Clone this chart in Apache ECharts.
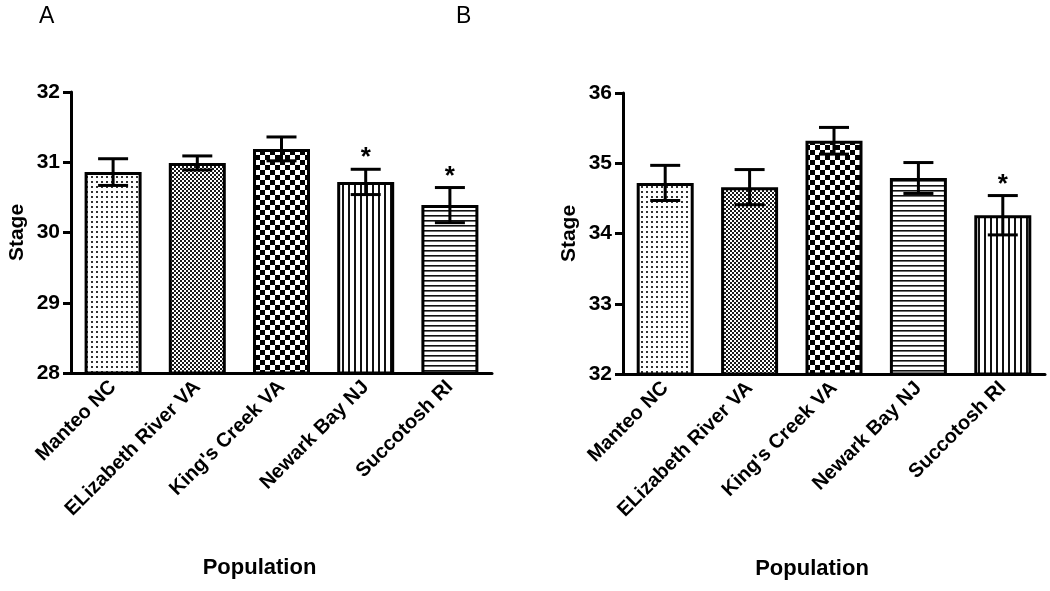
<!DOCTYPE html>
<html>
<head>
<meta charset="utf-8">
<script src="https://cdn.jsdelivr.net/npm/echarts@6/dist/echarts.min.js"></script>
<style>
html,body{margin:0;padding:0;background:#fff;}
#chart{width:1050px;height:591px;}
</style>
</head>
<body>
<div id="chart"></div>
<script>
const categories = ['Manteo NC', 'ELizabeth River VA', "King's Creek VA", 'Newark Bay NJ', 'Succotosh RI'];
const meanA = [30.86, 30.99, 31.19, 30.72, 30.39];
const semA  = [0.19, 0.10, 0.17, 0.18, 0.25];
const sigA  = ['', '', '', '*', '*'];
const meanB = [34.72, 34.66, 35.32, 34.79, 34.26];
const semB  = [0.25, 0.25, 0.19, 0.22, 0.28];
const sigB  = ['', '', '', '', '*'];
const yRangeA = [28, 32];
const yRangeB = [32, 36];
const patternsA = ['dots', 'fine', 'checker', 'vlines', 'hlines'];
const patternsB = ['dots', 'fine', 'checker', 'hlines', 'vlines'];
const panelLabels = ['A', 'B'];
const yTitle = 'Stage';
const xTitle = 'Population';

function makePattern(kind) {
  const c = document.createElement('canvas');
  let ctx;
  if (kind === 'dots') {
    c.width = 5; c.height = 5; ctx = c.getContext('2d');
    ctx.fillStyle = '#fff'; ctx.fillRect(0, 0, 5, 5);
    ctx.fillStyle = '#333'; ctx.fillRect(1, 1, 2, 2);
  } else if (kind === 'fine') {
    c.width = 4; c.height = 4; ctx = c.getContext('2d');
    ctx.fillStyle = '#fff'; ctx.fillRect(0, 0, 4, 4);
    ctx.fillStyle = '#1a1a1a'; ctx.fillRect(0, 0, 2, 2); ctx.fillRect(2, 2, 2, 2);
  } else if (kind === 'checker') {
    c.width = 10; c.height = 10; ctx = c.getContext('2d');
    ctx.fillStyle = '#fff'; ctx.fillRect(0, 0, 10, 10);
    ctx.fillStyle = '#000'; ctx.fillRect(0, 0, 5, 5); ctx.fillRect(5, 5, 5, 5);
  } else if (kind === 'vlines') {
    c.width = 6; c.height = 6; ctx = c.getContext('2d');
    ctx.fillStyle = '#fff'; ctx.fillRect(0, 0, 6, 6);
    ctx.fillStyle = '#111'; ctx.fillRect(0, 0, 2, 6);
  } else {
    c.width = 5; c.height = 5; ctx = c.getContext('2d');
    ctx.fillStyle = '#fff'; ctx.fillRect(0, 0, 5, 5);
    ctx.fillStyle = '#111'; ctx.fillRect(0, 0, 5, 1.6);
  }
  return { image: c, repeat: 'repeat' };
}

const FONT = 'Liberation Sans, Arial, sans-serif';

function xAxisFor(idx) {
  return {
    type: 'category', gridIndex: idx, data: categories,
    axisLine: { lineStyle: { color: '#000', width: 3 } },
    axisTick: { alignWithLabel: true, length: 9, lineStyle: { color: '#000', width: 3 } },
    axisLabel: { rotate: 45, color: '#000', fontWeight: 'bold', fontSize: 20, fontFamily: FONT, margin: 11, interval: 0 },
    name: xTitle, nameLocation: 'middle', nameGap: 184,
    nameTextStyle: { color: '#000', fontWeight: 'bold', fontSize: 22, fontFamily: FONT, padding: [0, 44, 0, 0] }
  };
}
function yAxisFor(idx, range) {
  return {
    type: 'value', gridIndex: idx, min: range[0], max: range[1], interval: 1,
    splitLine: { show: false },
    axisLine: { show: true, lineStyle: { color: '#000', width: 3 } },
    axisTick: { show: true, length: 8, lineStyle: { color: '#000', width: 3 } },
    axisLabel: { color: '#000', fontWeight: 'bold', fontSize: 21, fontFamily: FONT, margin: 11 },
    name: yTitle, nameLocation: 'middle', nameGap: 43, nameRotate: 90,
    nameTextStyle: { color: '#000', fontWeight: 'bold', fontSize: 21, fontFamily: FONT }
  };
}

function barSeries(idx, means, pats) {
  return {
    type: 'bar', xAxisIndex: idx, yAxisIndex: idx, barWidth: 57, z: 2,
    data: means.map((v, i) => ({
      value: v,
      itemStyle: { color: makePattern(pats[i]), borderColor: '#000', borderWidth: 3 }
    }))
  };
}

function errSeries(idx, means, sems, sigs) {
  return {
    type: 'custom', xAxisIndex: idx, yAxisIndex: idx, z: 5,
    data: means.map((m, i) => [i, m, sems[i]]),
    encode: { x: 0, y: 1 },
    renderItem: function (params, api) {
      const x = api.value(0), m = api.value(1), s = api.value(2);
      const sig = sigs[params.dataIndex];
      const top = api.coord([x, m + s]);
      const bot = api.coord([x, m - s]);
      const hw = 15;
      const st = { stroke: '#000', lineWidth: 3 };
      const children = [
        { type: 'line', shape: { x1: top[0], y1: top[1], x2: bot[0], y2: bot[1] }, style: st },
        { type: 'line', shape: { x1: top[0] - hw, y1: top[1], x2: top[0] + hw, y2: top[1] }, style: st },
        { type: 'line', shape: { x1: bot[0] - hw, y1: bot[1], x2: bot[0] + hw, y2: bot[1] }, style: st }
      ];
      if (sig) {
        children.push({
          type: 'text', x: top[0], y: top[1] + 2,
          style: { text: sig, fill: '#000', font: 'bold 26px ' + FONT, textAlign: 'center', textVerticalAlign: 'bottom' }
        });
      }
      return { type: 'group', children: children };
    }
  };
}

const chart = echarts.init(document.getElementById('chart'), null, { renderer: 'canvas' });
chart.setOption({
  backgroundColor: '#fff',
  animation: false,
  grid: [
    { left: 71, top: 92, width: 421, height: 281 },
    { left: 623, top: 93, width: 422, height: 281 }
  ],
  graphic: [
    { type: 'text', left: 39, top: 5, style: { text: panelLabels[0], font: '23px ' + FONT, fill: '#000' } },
    { type: 'text', left: 456, top: 5, style: { text: panelLabels[1], font: '23px ' + FONT, fill: '#000' } }
  ],
  xAxis: [xAxisFor(0), xAxisFor(1)],
  yAxis: [yAxisFor(0, yRangeA), yAxisFor(1, yRangeB)],
  series: [
    barSeries(0, meanA, patternsA),
    errSeries(0, meanA, semA, sigA),
    barSeries(1, meanB, patternsB),
    errSeries(1, meanB, semB, sigB)
  ]
});
</script>
</body>
</html>
